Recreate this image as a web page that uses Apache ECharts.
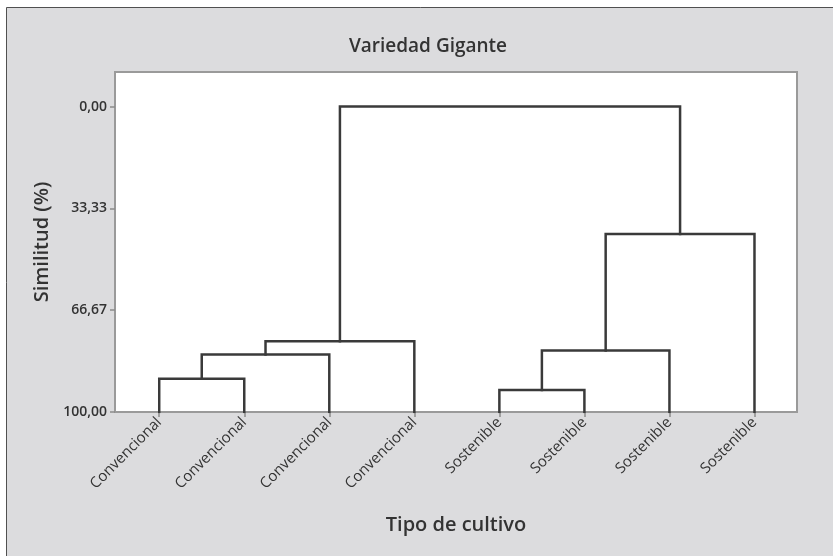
<!DOCTYPE html>
<html>
<head>
<meta charset="utf-8">
<script src="https://cdn.jsdelivr.net/npm/echarts@6/dist/echarts.min.js"></script>
<style>html,body{margin:0;padding:0;background:#fff;}#c{width:833px;height:556px;}</style>
</head>
<body>
<div id="c"></div>
<script>
// Leaves (observations) in dendrogram order
const leafLabels = ['Convencional','Convencional','Convencional','Convencional','Sostenible','Sostenible','Sostenible','Sostenible'];
// Merge steps: cluster ids 0..7 are leaves, 8.. are created in order
const mergeLeft  = [0, 8, 9, 4, 11, 12, 10];
const mergeRight = [1, 2, 3, 5, 6, 7, 13];
const mergeSimilarity = [89.1, 81.2, 76.8, 92.8, 79.9, 41.7, 0.0];
// Y axis tick values and labels
const yTicks = [0, 33.33, 66.67, 100];
const yTickLabels = ['0,00','33,33','66,67','100,00'];

// Build link polylines from the merge table
const nodeX = leafLabels.map((_, i) => i + 1);
const nodeY = leafLabels.map(() => 100);
const links = [];
for (let k = 0; k < mergeLeft.length; k++) {
  const a = mergeLeft[k], b = mergeRight[k], h = mergeSimilarity[k];
  links.push({coords: [[nodeX[a], nodeY[a]], [nodeX[a], h], [nodeX[b], h], [nodeX[b], nodeY[b]]]});
  nodeX.push((nodeX[a] + nodeX[b]) / 2);
  nodeY.push(h);
}
const leafPos = leafLabels.map((_, i) => i + 1);

const font = '"Open Sans", "Noto Sans", sans-serif';
const chart = echarts.init(document.getElementById('c'));
chart.setOption({
  backgroundColor: '#ffffff',
  animation: false,
  graphic: [{
    type: 'rect', z: -100, silent: true,
    shape: {x: 6.5, y: 7.5, width: 900, height: 600},
    style: {fill: '#dcdcde', stroke: '#505050', lineWidth: 1}
  }],
  title: {
    text: 'Variedad Gigante', left: 423, top: 32, textAlign: 'center',
    textStyle: {fontFamily: font, fontSize: 19, fontWeight: 600, color: '#333'}
  },
  grid: {
    left: 115, right: 36, top: 72, bottom: 144,
    show: true, backgroundColor: '#ffffff', borderColor: '#9a9a9a', borderWidth: 2
  },
  xAxis: {
    type: 'value', min: 0.48, max: 8.5,
    name: 'Tipo de cultivo', nameLocation: 'middle', nameGap: 103,
    nameTextStyle: {fontFamily: font, fontSize: 20, fontWeight: 600, color: '#333'},
    axisLine: {show: false, onZero: false},
    splitLine: {show: false},
    axisTick: {show: true, customValues: leafPos, length: 5, lineStyle: {color: '#8a8a8a', width: 1.5}},
    axisLabel: {
      customValues: leafPos, rotate: 45, margin: 8,
      fontFamily: font, fontSize: 15, color: '#333',
      formatter: v => leafLabels[Math.round(v) - 1] || ''
    }
  },
  yAxis: {
    type: 'value', inverse: true, min: -11.3, max: 100,
    name: 'Similitud (%)', nameLocation: 'middle', nameGap: 62, nameRotate: 90,
    nameTextStyle: {fontFamily: font, fontSize: 20, fontWeight: 600, color: '#333'},
    axisLine: {show: false, onZero: false},
    splitLine: {show: false},
    axisTick: {show: true, customValues: yTicks, length: 5, lineStyle: {color: '#8a8a8a', width: 1.5}},
    axisLabel: {
      customValues: yTicks, margin: 8,
      fontFamily: font, fontSize: 14, fontWeight: 600, color: '#333',
      formatter: v => yTickLabels[yTicks.indexOf(v)] !== undefined ? yTickLabels[yTicks.indexOf(v)] : ''
    }
  },
  series: [{
    type: 'lines', coordinateSystem: 'cartesian2d', polyline: true,
    data: links, silent: true,
    lineStyle: {color: '#3a3a3a', width: 2.5, opacity: 1, cap: 'square', join: 'miter'}
  }]
});
</script>
</body>
</html>
